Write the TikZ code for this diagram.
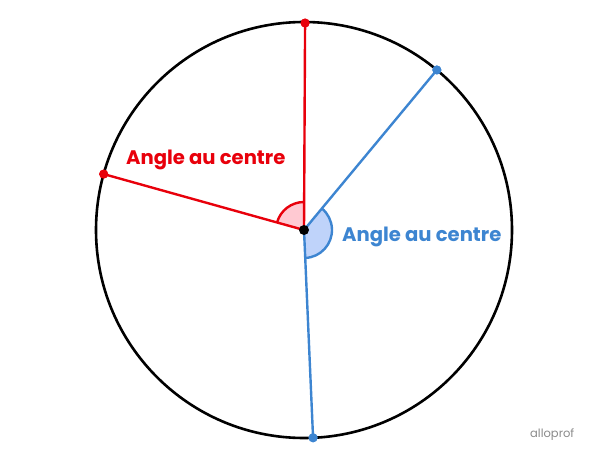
\documentclass[tikz,border=0pt]{standalone}
\usepackage{fontspec}
\setmainfont{Poppins}
\usetikzlibrary{calc}
\definecolor{redc}{HTML}{E8000B}
\definecolor{bluec}{HTML}{3D85D1}
\definecolor{redfill}{HTML}{FFC9D2}
\definecolor{bluefill}{HTML}{BFD3FA}
\definecolor{logogray}{HTML}{8A8A8A}
\begin{document}
\begin{tikzpicture}[x=1pt,y=1pt,
  circ/.style={draw=black,line width=2.6pt},
  rseg/.style={draw=redc,line width=2.4pt},
  bseg/.style={draw=bluec,line width=2.4pt},
  rdot/.style={circle,fill=redc,inner sep=0pt,minimum size=9pt},
  bdot/.style={circle,fill=bluec,inner sep=0pt,minimum size=9pt},
  cdot/.style={circle,fill=black,inner sep=0pt,minimum size=10pt},
  lbl/.style={font=\bfseries\fontsize{19.6}{22}\selectfont,inner sep=0pt}]
\useasboundingbox (0,0) rectangle (600,459);
\coordinate (O) at (304,229);
\draw[circ] (O) circle (208);
% sectors
\fill[redfill] (O) -- ++(90:28) arc (90:164.4:28) -- cycle;
\draw[redc,line width=2.4pt] ($(O)+(90:28)$) arc (90:164.4:28);
\fill[bluefill] (O) -- ++(-87.5:28) arc (-87.5:50.3:28) -- cycle;
\draw[bluec,line width=2.4pt] ($(O)+(-87.5:28)$) arc (-87.5:50.3:28);
% points
\node[rdot] (rt) at ($(O)+(89.7:207)$) {};
\node[rdot] (rl) at ($(O)+(164.4:208)$) {};
\node[bdot] (br) at ($(O)+(50.3:208)$) {};
\node[bdot] (bb) at ($(O)+(-87.5:208)$) {};
\draw[rseg] (O) -- (rt.center);
\draw[rseg] (O) -- (rl.center);
\draw[bseg] (O) -- (br.center);
\draw[bseg] (O) -- (bb.center);
\node[cdot] (c) at (O) {};
\node[rdot] at (rt) {};
\node[rdot] at (rl) {};
\node[bdot] at (br) {};
\node[bdot] at (bb) {};
% labels
\node[lbl,text=redc,anchor=west] (lr) at (126,299) {Angle au centre};
\node[lbl,text=bluec,anchor=west] (lb) at (342,222) {Angle au centre};
\node[font=\fontsize{11.5}{13}\selectfont,text=logogray,anchor=west,inner sep=0pt] (logo) at (530,24) {alloprof};
\end{tikzpicture}
\end{document}
